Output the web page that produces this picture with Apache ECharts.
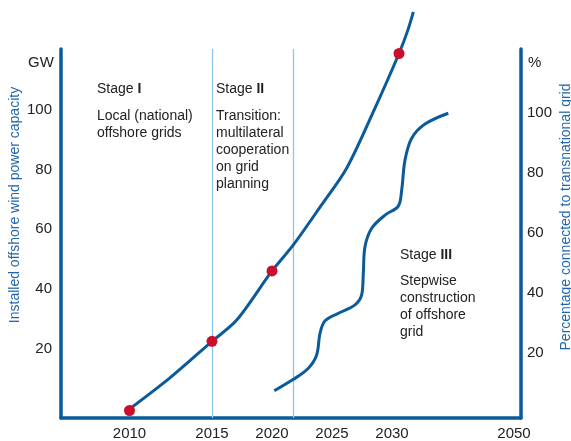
<!DOCTYPE html>
<html>
<head>
<meta charset="utf-8">
<script src="https://cdn.jsdelivr.net/npm/echarts@6/dist/echarts.min.js"></script>
<style>
html,body{margin:0;padding:0;background:#fff;}
#chart{width:571px;height:441px;}
</style>
</head>
<body>
<div id="chart"></div>
<script>
// ---- data ----
var xTicks = [2010, 2015, 2020, 2025, 2030, 2050];
var leftTicks = [20, 40, 60, 80, 100];
var rightTicks = [20, 40, 60, 80, 100];
// installed capacity (GW): [year, GW]
var gwYears  = [2010, 2012.45, 2015, 2017.06, 2020, 2021.78, 2024, 2026.22, 2028.44, 2031.15, 2032.6, 2033.5];
var gwValues = [0,    10.4,    22.6, 29.7,    46.1, 54.8,    67.4, 80.4,    99.2,    118.7,   126.5,  132.6];
// milestone dots
var dotYears  = [2010, 2015, 2020, 2031.15];
var dotValues = [-0.5, 22.6, 46.1, 118.7];
// percentage connected to transnational grid: [year, %]
var pctYears  = [2020.19, 2021.78, 2023.03, 2023.72, 2024.0, 2024.42, 2025.53, 2026.92, 2027.47, 2027.61, 2027.75, 2028.31, 2029.42, 2031.03, 2031.59, 2032.13, 2033.23, 2035.41, 2039.23];
var pctValues = [7.5,     11.3,    15.0,    19.4,    26.6,   30.8,    33.3,    36.1,    39.4,    46.6,    55.5,    61.6,    66.0,    69.0,    74.4,    84.3,    91.6,    96.3,    99.9];
// stage boundaries (years)
var stageBounds = [2015, 2021.8];

// ---- schematic (piecewise-linear) time scale of the x axis ----
var scaleYears = [2010, 2015, 2030, 2050];
var scaleUnits = [2008.125, 2015, 2030, 2040.167];
function interp(v, xs, ys) {
  var i = 0;
  if (v <= xs[0]) i = 0;
  else if (v >= xs[xs.length - 1]) i = xs.length - 2;
  else { while (v > xs[i + 1]) i++; }
  var t = (v - xs[i]) / (xs[i + 1] - xs[i]);
  return ys[i] + t * (ys[i + 1] - ys[i]);
}
function toU(y) { return interp(y, scaleYears, scaleUnits); }
function fromU(u) { return interp(u, scaleUnits, scaleYears); }
function pairs(xs, ys) { return xs.map(function (x, i) { return [toU(x), ys[i]]; }); }

var BLUE = '#0b5a9a';
var NAMEBLUE = '#1f66aa';
var TXT = '#222222';
var FONT = '"Liberation Sans", Arial, sans-serif';

var chart = echarts.init(document.getElementById('chart'), null, {renderer: 'canvas'});

function txt(x, y, text, extra) {
  var st = {
    x: x, y: y, text: text, fill: TXT,
    fontSize: 14, fontFamily: FONT, lineHeight: 17,
    textAlign: 'left', textVerticalAlign: 'top',
    rich: { b: { fontWeight: 'bold', fontSize: 14, fontFamily: FONT, fill: TXT } }
  };
  if (extra) for (var k in extra) st[k] = extra[k];
  return { type: 'text', style: st, silent: true, z: 10 };
}

var option = {
  animation: false,
  backgroundColor: '#ffffff',
  textStyle: { fontFamily: FONT },
  grid: { left: 61, right: 50, top: 49, bottom: 23, containLabel: false },
  xAxis: {
    type: 'value',
    min: 2002.417, max: 2040.75,
    axisLine: { show: true, onZero: false, lineStyle: { color: BLUE, width: 3.5 } },
    axisTick: { show: false },
    splitLine: { show: false },
    axisLabel: {
      customValues: xTicks.map(toU),
      formatter: function (v) { return String(Math.round(fromU(v))); },
      color: TXT, fontSize: 15, fontFamily: FONT, margin: 8
    }
  },
  yAxis: [{
    type: 'value', position: 'left',
    min: -3, max: 120.2,
    axisLine: { show: true, onZero: false, lineStyle: { color: BLUE, width: 3.5 } },
    axisTick: { show: false },
    splitLine: { show: false },
    axisLabel: { customValues: leftTicks, color: TXT, fontSize: 15, fontFamily: FONT, margin: 9 }
  }, {
    type: 'value', position: 'right',
    min: -1.57, max: 121.3,
    axisLine: { show: true, onZero: false, lineStyle: { color: BLUE, width: 3.5 } },
    axisTick: { show: false },
    splitLine: { show: false },
    axisLabel: { customValues: rightTicks, color: TXT, fontSize: 15, fontFamily: FONT, margin: 6 }
  }],
  series: [{
    name: 'Installed capacity',
    type: 'line',
    yAxisIndex: 0,
    data: pairs(gwYears, gwValues),
    smooth: 0.3,
    showSymbol: false,
    clip: false,
    lineStyle: { color: BLUE, width: 3 },
    z: 3,
    markLine: {
      silent: true,
      symbol: ['none', 'none'],
      label: { show: false },
      lineStyle: { color: '#8ec5ec', width: 1.3, type: 'solid' },
      data: stageBounds.map(function (b) { return { xAxis: toU(b) }; }),
      z: 1
    }
  }, {
    name: 'Percentage',
    type: 'line',
    yAxisIndex: 1,
    data: pairs(pctYears, pctValues),
    smooth: 0.35,
    showSymbol: false,
    clip: false,
    lineStyle: { color: BLUE, width: 3 },
    z: 3
  }, {
    name: 'Milestones',
    type: 'scatter',
    yAxisIndex: 0,
    data: pairs(dotYears, dotValues),
    symbolSize: 11,
    clip: false,
    itemStyle: { color: '#c8102e', opacity: 1 },
    z: 5
  }],
  graphic: [
    txt(28, 54, 'GW', { fontSize: 15 }),
    txt(528, 54, '%', { fontSize: 15 }),
    txt(97, 81, 'Stage {b|I}'),
    txt(97, 108, 'Local (national)\noffshore grids'),
    txt(216, 81, 'Stage {b|II}'),
    txt(216, 108, 'Transition:\nmultilateral\ncooperation\non grid\nplanning'),
    txt(400, 247, 'Stage {b|III}'),
    txt(400, 273, 'Stepwise\nconstruction\nof offshore\ngrid'),
    {
      type: 'text', x: 15, y: 205, rotation: Math.PI / 2, silent: true,
      style: { text: 'Installed offshore wind power capacity', fill: NAMEBLUE,
        fontSize: 14, fontFamily: FONT, textAlign: 'center', textVerticalAlign: 'middle' }
    },
    {
      type: 'text', x: 566, y: 217, rotation: Math.PI / 2, silent: true,
      style: { text: 'Percentage connected to transnational grid', fill: NAMEBLUE,
        fontSize: 14, fontFamily: FONT, textAlign: 'center', textVerticalAlign: 'middle' }
    }
  ]
};
chart.setOption(option);
</script>
</body>
</html>
